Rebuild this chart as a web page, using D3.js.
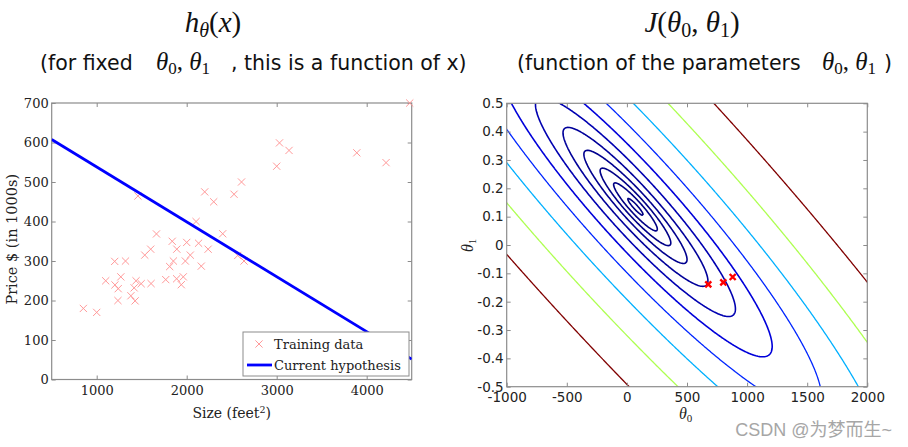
<!DOCTYPE html>
<html><head><meta charset="utf-8">
<script src="https://cdn.jsdelivr.net/npm/d3@7"></script>
<style>body{margin:0;background:#fff} svg{display:block}</style>
</head><body>
<svg id="c" width="908" height="447"></svg>
<script>
// ---- data ----
const sizes  = [2104,1600,2400,1416,3000,1985,1534,1427,1380,1494,1940,2000,1890,4478,1268,2300,1320,1236,2609,3031,1767,1888,1604,1962,3890,1100,1458,2526,2200,2637,1839,1000,2040,3137,1811,1437,1239,2132,4215,2162,1664,2238,2567,1200,852,1852,1203];
const prices = [399.9,329.9,369.0,232.0,539.9,299.9,314.9,199.0,212.0,242.5,240.0,347.0,330.0,699.9,259.9,449.9,299.9,199.9,500.0,599.0,252.9,255.0,242.9,259.9,573.9,249.9,464.5,469.0,475.0,299.9,349.9,169.9,314.9,579.9,285.9,249.9,229.9,345.0,549.0,287.0,368.5,329.9,314.0,299.0,179.9,299.9,239.5];
const hypTheta0 = 677, hypTheta1 = -0.139;
const pathTheta0 = [677, 802, 880];
const pathTheta1 = [-0.139, -0.132, -0.113];
const leftXTicks = [1000, 2000, 3000, 4000];
const leftYTicks = [0, 100, 200, 300, 400, 500, 600, 700];
const rightXTicks = [-1000, -500, 0, 500, 1000, 1500, 2000];
const rightYTicks = [-0.5, -0.4, -0.3, -0.2, -0.1, 0, 0.1, 0.2, 0.3, 0.4, 0.5];
const levels = [2336, 4281, 7848, 14384, 26367, 48329, 88587, 162378, 297635, 545559, 1000000];
const legendLabels = ["Training data", "Current hypothesis"];

// ---- setup ----
const svg = d3.select("#c");
const axisCol = "#8c8c8c", textCol = "#222";
const xL = d3.scaleLinear([500, 4500], [51.7, 411.7]);
const yL = d3.scaleLinear([0, 700], [379.5, 103]);
const xR = d3.scaleLinear([-1000, 2000], [506.7, 867.3]);
const yR = d3.scaleLinear([-0.5, 0.5], [386.7, 103.3]);

const defs = svg.append("defs");
defs.append("clipPath").attr("id", "clipL").append("rect")
  .attr("x", xL(500)).attr("y", yL(700)).attr("width", xL(4500) - xL(500)).attr("height", yL(0) - yL(700));
defs.append("clipPath").attr("id", "clipR").append("rect")
  .attr("x", xR(-1000)).attr("y", yR(0.5)).attr("width", xR(2000) - xR(-1000)).attr("height", yR(-0.5) - yR(0.5));

function frame(x, y, fontFam, fontSize, xTicks, yTicks, labelBaseX, labelY) {
  const g = svg.append("g");
  const [x0, x1] = x.range(), [y0, y1] = y.range();
  g.append("rect").attr("x", x0).attr("y", y1).attr("width", x1 - x0).attr("height", y0 - y1)
    .attr("fill", "none").attr("stroke", axisCol).attr("stroke-width", 1.2);
  const style = sel => {
    sel.select(".domain").remove();
    sel.selectAll(".tick line").attr("stroke", axisCol);
    sel.selectAll(".tick text").attr("fill", textCol).style("font-family", fontFam).style("font-size", fontSize + "px");
  };
  g.append("g").attr("transform", `translate(0,${y0})`)
    .call(d3.axisBottom(x).tickValues(xTicks).tickSizeInner(-4).tickSizeOuter(0).tickPadding(labelY).tickFormat(d => String(d)))
    .call(style);
  g.append("g").attr("transform", `translate(0,${y1})`)
    .call(d3.axisTop(x).tickValues(xTicks).tickSizeInner(-4).tickSizeOuter(0).tickFormat(""))
    .call(style);
  g.append("g").attr("transform", `translate(${x0},0)`)
    .call(d3.axisLeft(y).tickValues(yTicks).tickSizeInner(-4).tickSizeOuter(0).tickPadding(labelBaseX).tickFormat(d => String(d)))
    .call(style);
  g.append("g").attr("transform", `translate(${x1},0)`)
    .call(d3.axisRight(y).tickValues(yTicks).tickSizeInner(-4).tickSizeOuter(0).tickFormat(""))
    .call(style);
  return g;
}

// ---- left plot ----
frame(xL, yL, "DejaVu Serif", 13, leftXTicks, leftYTicks, 3, 6);

const xmark = r => `M${-r},${-r}L${r},${r}M${-r},${r}L${r},${-r}`;
svg.append("g").selectAll("path").data(sizes).join("path")
  .attr("transform", (d, i) => `translate(${xL(d)},${yL(prices[i])})`)
  .attr("d", xmark(3.6)).attr("stroke", "#ff9999").attr("stroke-width", 1).attr("fill", "none");

const lineXs = xL.domain();
svg.append("path").attr("clip-path", "url(#clipL)")
  .datum(lineXs)
  .attr("d", d3.line().x(d => xL(d)).y(d => yL(hypTheta0 + hypTheta1 * d)))
  .attr("stroke", "#0000ff").attr("stroke-width", 2.8).attr("fill", "none");

// legend
const lg = svg.append("g");
lg.append("rect").attr("x", 243).attr("y", 332).attr("width", 166).attr("height", 44)
  .attr("fill", "#fff").attr("stroke", axisCol).attr("stroke-width", 1);
lg.append("path").attr("transform", "translate(259,344)").attr("d", xmark(3.6))
  .attr("stroke", "#ff9999").attr("stroke-width", 1).attr("fill", "none");
lg.append("line").attr("x1", 247).attr("x2", 272).attr("y1", 365).attr("y2", 365)
  .attr("stroke", "#0000ff").attr("stroke-width", 2.8);
lg.selectAll("text").data(legendLabels).join("text")
  .attr("x", 274).attr("y", (d, i) => 349 + i * 21)
  .attr("fill", textCol).style("font-family", "DejaVu Serif").style("font-size", "13px").text(d => d);

// axis labels left
svg.append("text").attr("x", xL(2500)).attr("y", 418).attr("text-anchor", "middle")
  .attr("fill", textCol).style("font-family", "DejaVu Serif").style("font-size", "14px")
  .call(t => { t.append("tspan").text("Size (feet"); t.append("tspan").attr("dy", -5).style("font-size", "9.5px").text("2"); t.append("tspan").attr("dy", 5).text(")"); });
svg.append("text").attr("transform", `translate(17,${(yL(0) + yL(700)) / 2 - 2}) rotate(-90)`).attr("text-anchor", "middle")
  .attr("fill", textCol).style("font-family", "DejaVu Serif").style("font-size", "14.5px").text("Price $ (in 1000s)");

// ---- right plot: contours of J ----
const m = sizes.length;
function J(t0, t1) {
  let s = 0;
  for (let k = 0; k < m; k++) { const r = t0 + t1 * sizes[k] - prices[k]; s += r * r; }
  return s / (2 * m);
}
const nx = 400, ny = 300;
const g0 = [-1100, 2100], g1 = [-0.55, 0.55];
const st0 = (g0[1] - g0[0]) / (nx - 1), st1 = (g1[1] - g1[0]) / (ny - 1);
const vals = new Float64Array(nx * ny);
for (let j = 0; j < ny; j++) for (let i = 0; i < nx; i++) vals[j * nx + i] = J(g0[0] + i * st0, g1[0] + j * st1);
const contours = d3.contours().size([nx, ny]).thresholds(levels)(vals);

function jet(t) {
  const c = v => Math.max(0, Math.min(1, v));
  const r = c(1.5 - Math.abs(4 * t - 3)), g = c(1.5 - Math.abs(4 * t - 2)), b = c(1.5 - Math.abs(4 * t - 1));
  return d3.rgb(r * 255, g * 255, b * 255).toString();
}
const lvMin = 10, lvMax = d3.max(levels);
const proj = d3.geoTransform({ point(x, y) {
  this.stream.point(xR(g0[0] + (x - 0.5) * st0), yR(g1[0] + (y - 0.5) * st1));
}});
const gp = d3.geoPath(proj);
svg.append("g").attr("clip-path", "url(#clipR)").selectAll("path").data(contours).join("path")
  .attr("d", gp).attr("fill", "none")
  .attr("stroke", d => jet((d.value - lvMin) / (lvMax - lvMin)))
  .attr("stroke-width", d => d.value < 100000 ? 1.6 : 1.3)
  .attr("stroke-linejoin", "round");

frame(xR, yR, "DejaVu Sans", 13.5, rightXTicks, rightYTicks, 3, 6);

svg.append("g").selectAll("path").data(pathTheta0).join("path")
  .attr("transform", (d, i) => `translate(${xR(d)},${yR(pathTheta1[i])})`)
  .attr("d", xmark(3)).attr("stroke", "#ff0000").attr("stroke-width", 2.4).attr("fill", "none");

// axis labels right
svg.append("text").attr("x", 679).attr("y", 419)
  .attr("fill", textCol).style("font-family", "Liberation Serif").style("font-size", "16px")
  .call(t => { t.append("tspan").style("font-style", "italic").text("θ"); t.append("tspan").attr("dy", 3).style("font-size", "11px").text("0"); });
svg.append("text").attr("transform", `translate(473,252) rotate(-90)`)
  .attr("fill", textCol).style("font-family", "Liberation Serif").style("font-size", "16px")
  .call(t => { t.append("tspan").style("font-style", "italic").text("θ"); t.append("tspan").attr("dy", 3).style("font-size", "11px").text("1"); });

// ---- titles ----
const mathFont = "Liberation Serif";
function title(x, build) {
  const t = svg.append("text").attr("x", x).attr("y", 32).attr("text-anchor", "middle")
    .attr("fill", "#111").style("font-family", mathFont).style("font-size", "29px");
  build(t);
}
title(213, t => {
  t.append("tspan").style("font-style", "italic").text("h");
  t.append("tspan").attr("dy", 5).style("font-style", "italic").style("font-size", "20px").text("θ");
  t.append("tspan").attr("dy", -5).text("(");
  t.append("tspan").style("font-style", "italic").text("x");
  t.append("tspan").text(")");
});
title(692, t => {
  t.append("tspan").style("font-style", "italic").text("J");
  t.append("tspan").text("(");
  t.append("tspan").style("font-style", "italic").text("θ");
  t.append("tspan").attr("dy", 5).style("font-size", "20px").text("0");
  t.append("tspan").attr("dy", -5).text(", ");
  t.append("tspan").style("font-style", "italic").text("θ");
  t.append("tspan").attr("dy", 5).style("font-size", "20px").text("1");
  t.append("tspan").attr("dy", -5).text(")");
});

function sub(x, txt) {
  svg.append("text").attr("x", x).attr("y", 70).attr("fill", "#111")
    .style("font-family", "DejaVu Sans").style("font-size", "20.5px").text(txt);
}
function thetas(x) {
  svg.append("text").attr("x", x).attr("y", 70).attr("fill", "#111")
    .style("font-family", mathFont).style("font-size", "25px")
    .call(t => {
      t.append("tspan").style("font-style", "italic").text("θ");
      t.append("tspan").attr("dy", 4).style("font-size", "17px").text("0");
      t.append("tspan").attr("dy", -4).text(", ");
      t.append("tspan").style("font-style", "italic").text("θ");
      t.append("tspan").attr("dy", 4).style("font-size", "17px").text("1");
    });
}
sub(40, "(for fixed");
thetas(156);
sub(231, ", this is a function of x)");
sub(517, "(function of the parameters");
thetas(822);
sub(884, ")");

// watermark
svg.append("text").attr("x", 892).attr("y", 436).attr("text-anchor", "end")
  .attr("fill", "#a6a6a6").style("font-family", "Liberation Sans, Noto Sans CJK SC").style("font-size", "18px").text("CSDN @为梦而生~");
</script>
</body></html>
